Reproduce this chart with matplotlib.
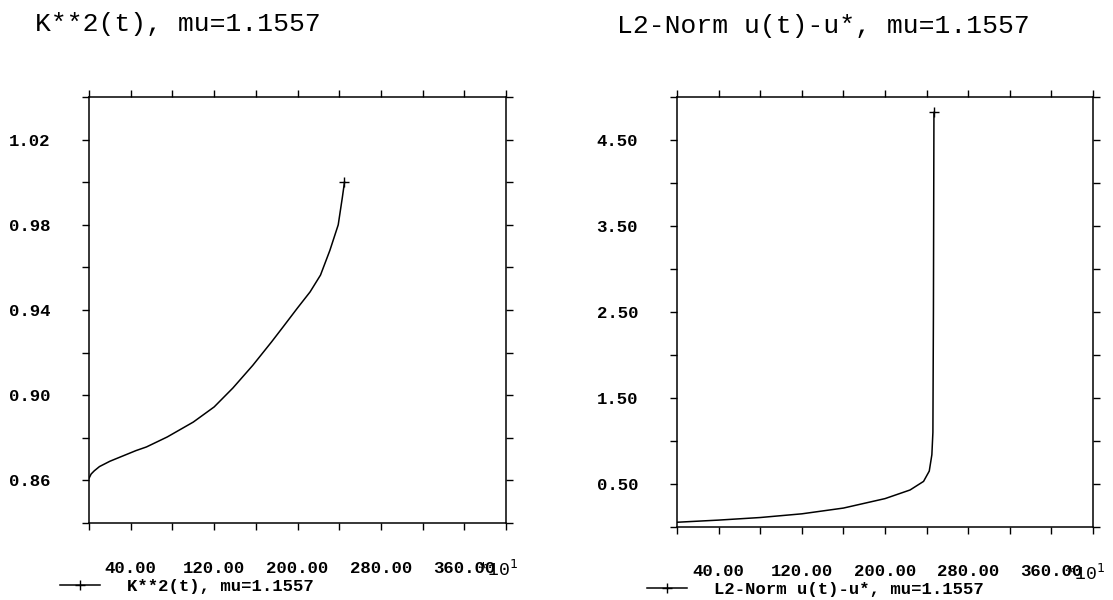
import matplotlib
matplotlib.use("Agg")
import matplotlib.pyplot as plt

plt.rcParams['font.family'] = ['Liberation Mono', 'DejaVu Sans Mono']

# time axis is in units of 10 (see the *10^1 on the x axis)
t_k = [0, 2, 5, 10, 20, 30, 45, 55, 75, 100, 120, 138, 157, 175, 186, 200, 212, 222,
       231, 239, 243, 245]
k2 = [0.861, 0.863, 0.8645, 0.8665, 0.869, 0.871, 0.874, 0.8757, 0.8804, 0.8874, 0.8945,
      0.9034, 0.914, 0.925, 0.932, 0.941, 0.9485, 0.9564, 0.968, 0.980, 0.993, 1.000]

t_u = [0, 40, 80, 120, 160, 200, 224, 237, 242.5, 245, 246, 246.5, 247]
u_norm = [0.055, 0.08, 0.11, 0.153, 0.22, 0.33, 0.43, 0.53, 0.65, 0.84, 1.1, 2.5, 4.82]

x_ticks = list(range(0, 401, 40))
x_labels = [40, 120, 200, 280, 360]

k_yticks = [0.84, 0.86, 0.88, 0.90, 0.92, 0.94, 0.96, 0.98, 1.00, 1.02, 1.04]
k_ylabels = [0.86, 0.90, 0.94, 0.98, 1.02]
u_yticks = [0.0, 0.5, 1.0, 1.5, 2.0, 2.5, 3.0, 3.5, 4.0, 4.5, 5.0]
u_ylabels = [0.5, 1.5, 2.5, 3.5, 4.5]

title_k = "K**2(t), mu=1.1557"
title_u = "L2-Norm u(t)-u*, mu=1.1557"

fig = plt.figure(figsize=(11.13, 6.0), dpi=100)
ax1 = fig.add_axes([0.0800, 0.1283, 0.3747, 0.7100])
ax2 = fig.add_axes([0.6083, 0.1217, 0.3738, 0.7167])


def setup(ax, yticks, ylabels):
    ax.set_xlim(0, 400)
    ax.set_ylim(yticks[0], yticks[-1])
    ax.set_xticks(x_ticks)
    ax.set_xticklabels(["%.2f" % v if v in x_labels else "" for v in x_ticks])
    ax.set_yticks(yticks)
    ax.set_yticklabels(["%.2f" % v if any(abs(v - l) < 1e-9 for l in ylabels) else ""
                        for v in yticks])
    ax.tick_params(direction='out', length=5, width=1.0, top=True, right=True,
                   labelsize=12.5, colors='black')
    ax.tick_params(axis='x', pad=22)
    ax.tick_params(axis='y', pad=23)
    for lab in ax.get_xticklabels() + ax.get_yticklabels():
        lab.set_fontweight('bold')
    for s in ax.spines.values():
        s.set_linewidth(1.1)
    # exponent of the time axis
    ax.annotate("*10$^{1}$", xy=(1, 0), xycoords='axes fraction',
                xytext=(-21, -34), textcoords='offset points',
                ha='left', va='center', fontsize=13)


setup(ax1, k_yticks, k_ylabels)
setup(ax2, u_yticks, u_ylabels)

ln1, = ax1.plot(t_k, k2, color='black', lw=1.1, marker='+', markevery=[-1],
                markersize=7, label=title_k)
ln2, = ax2.plot(t_u, u_norm, color='black', lw=1.1, marker='+', markevery=[-1],
                markersize=7, label=title_u)

for ax, ln, pos in [(ax1, ln1, (60 / 1113, 0.022)), (ax2, ln2, (647 / 1113, 0.017))]:
    ax.legend(handles=[ln], loc='center left', bbox_to_anchor=pos,
              bbox_transform=fig.transFigure, frameon=False,
              prop={'size': 12.4, 'weight': 'bold'},
              borderpad=0, borderaxespad=0, handlelength=2.3, handletextpad=1.6,
              numpoints=1)

fig.text(35 / 1113, 0.96, title_k, fontsize=19, va='center', ha='left')
fig.text(617 / 1113, 0.956, title_u, fontsize=19, va='center', ha='left')

fig.savefig("out.png", dpi=100)
